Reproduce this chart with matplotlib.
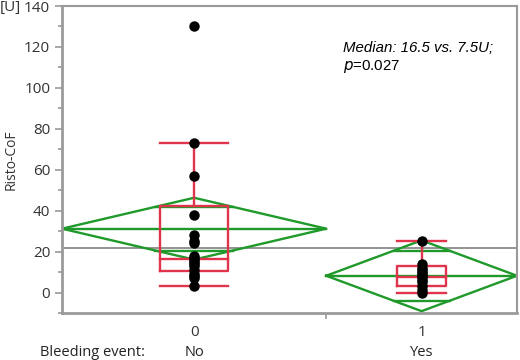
import matplotlib.pyplot as plt
import numpy as np
from matplotlib.ticker import MultipleLocator

# data
groups = ["0", "1"]
group_names = ["No", "Yes"]
group_n = [18, 13]
points_no = [130, 73, 57, 38, 28, 25, 24, 18, 17, 16, 15, 14, 13, 11, 9, 8, 7, 3]
points_yes = [25, 14, 12, 11, 10, 9, 8, 7.5, 6, 5, 3, 1, 0]
box_q1 = [10.5, 3.3]
box_median = [16.5, 7.5]
box_q3 = [42.5, 13.0]
whisker_lo = [3, 0]
whisker_hi = [73, 25]
diamond_mean = [31.2, 8.2]
diamond_ci_half = [15.1, 17.3]
grand_mean = 22.0

GREEN = "#1f9a2a"
RED = "#e0344c"
GRAY = "#9a9a9a"
LW = 1.7

fig = plt.figure(figsize=(5.2, 3.6), dpi=100)
ax = fig.add_axes([62 / 520, 1 - 313 / 360, 455 / 520, 307 / 360])

edges = np.concatenate([[0], np.cumsum(group_n)])
centers = (edges[:-1] + edges[1:]) / 2
all_points = [points_no, points_yes]

for i in range(len(groups)):
    left, right, c = edges[i], edges[i + 1], centers[i]
    m, h = diamond_mean[i], diamond_ci_half[i]
    # means diamond
    ax.plot([left, c, right, c, left], [m, m + h, m, m - h, m], color=GREEN, lw=LW, zorder=2)
    ax.plot([left, right], [m, m], color=GREEN, lw=LW, zorder=2)
    # overlap marks
    d = h / np.sqrt(2)
    half_w = (right - left) / 2 * (1 - 1 / np.sqrt(2))
    for y in (m + d, m - d):
        ax.plot([c - half_w, c + half_w], [y, y], color=GREEN, lw=LW, zorder=2)

    # box plot
    bw = 0.255 * group_n[i] / 2
    ax.plot([c - bw, c + bw, c + bw, c - bw, c - bw],
            [box_q1[i], box_q1[i], box_q3[i], box_q3[i], box_q1[i]], color=RED, lw=LW, zorder=3)
    ax.plot([c - bw, c + bw], [box_median[i]] * 2, color=RED, lw=LW, zorder=3)
    ax.plot([c, c], [box_q3[i], whisker_hi[i]], color=RED, lw=LW, zorder=3)
    ax.plot([c, c], [whisker_lo[i], box_q1[i]], color=RED, lw=LW, zorder=3)
    for y in (whisker_lo[i], whisker_hi[i]):
        ax.plot([c - bw, c + bw], [y, y], color=RED, lw=LW, zorder=3)

    ax.plot([c] * len(all_points[i]), all_points[i], "o", color="black", ms=6.5, zorder=4)

ax.axhline(grand_mean, color="#8a8a8a", lw=1.3, zorder=1)

ax.set_xlim(edges[0], edges[-1])
ax.set_ylim(-10, 140)
ax.yaxis.set_major_locator(MultipleLocator(20))
ax.yaxis.set_minor_locator(MultipleLocator(10))
ax.set_xticks(centers)
ax.set_xticklabels(groups)
ax.set_xticks(edges[1:-1], minor=True)
ax.tick_params(axis="x", which="major", length=0, pad=9)
ax.tick_params(axis="x", which="minor", length=4, color=GRAY, width=1.2)
ax.tick_params(axis="y", which="both", color=GRAY, width=1.2, length=5)
ax.tick_params(axis="y", which="minor", length=3)
ax.tick_params(labelsize=11, labelcolor="#333333")
for lab in ax.get_xticklabels() + ax.get_yticklabels():
    lab.set_family("Open Sans")
for s in ax.spines.values():
    s.set_color(GRAY)
    s.set_linewidth(1.5)
ax.spines["left"].set_linewidth(2)
ax.spines["bottom"].set_linewidth(2)

ax.set_ylabel("Risto-CoF", family="Open Sans", fontsize=10, color="#333333", labelpad=4)
fig.text(0.0, 1 - 8 / 360, "[U]", family="Open Sans", fontsize=11, color="#333333",
         ha="left", va="center")

ax.text(0.617, 0.862, "Median: 16.5 vs. 7.5U;", transform=ax.transAxes, family="Liberation Sans",
        style="italic", fontsize=10.8, va="center", ha="left")
ax.text(0.617, 0.803, "$\\mathit{p}$=0.027", transform=ax.transAxes, family="Liberation Sans",
        fontsize=10.8, va="center", ha="left")

fig.text(40 / 520, 1 - 352 / 360, "Bleeding event:", family="Open Sans", fontsize=10.5,
         color="#222222", ha="left", va="center")
for i, name in enumerate(group_names):
    xf = ax.transData.transform((centers[i], 0))[0] / fig.bbox.width
    fig.text(xf, 1 - 352 / 360, name, family="Open Sans", fontsize=10.5, color="#222222",
             ha="center", va="center")

fig.savefig("out.png", dpi=100)
